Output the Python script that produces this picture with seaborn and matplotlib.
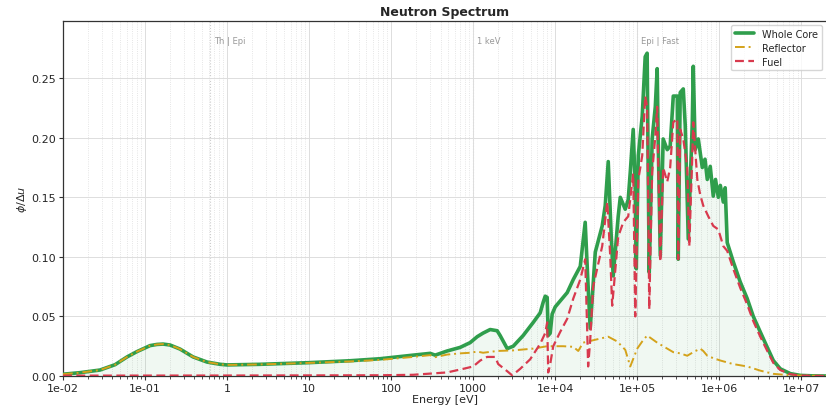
import numpy as np
import pandas as pd
import matplotlib
matplotlib.use("Agg")
import matplotlib.pyplot as plt
import matplotlib.ticker as mticker
import matplotlib.transforms as mtransforms
import seaborn as sns

# ---------------- data ----------------
energy_core = [1.00e-2, 1.12e-2, 1.61e-2, 2.82e-2, 4.31e-2, 6.03e-2, 7.98e-2, 9.46e-2, 0.115, 0.140,
               0.166, 0.202, 0.267, 0.385, 0.570, 0.822, 1.0, 2.52, 10.0, 31.6,
               73.4, 185, 299, 344, 482, 693, 918, 1.12e3, 1.32e3, 1.61e3,
               1.96e3, 2.13e3, 2.60e3, 3.08e3, 4.07e3, 5.40e3, 6.56e3, 7.14e3, 7.55e3, 7.98e3,
               8.22e3, 8.69e3, 9.18e3, 1.00e4, 1.15e4, 1.40e4, 1.66e4, 2.02e4, 2.32e4, 2.52e4,
               2.67e4, 3.08e4, 3.74e4, 4.07e4, 4.43e4, 4.82e4, 5.09e4, 5.86e4, 6.21e4, 7.14e4,
               7.76e4, 8.22e4, 8.93e4, 9.46e4, 9.73e4, 1.03e5, 1.15e5, 1.25e5, 1.32e5, 1.36e5,
               1.40e5, 1.52e5, 1.66e5, 1.75e5, 1.80e5, 1.91e5, 2.07e5, 2.32e5, 2.52e5, 2.75e5,
               3.08e5, 3.16e5, 3.34e5, 3.64e5, 3.85e5, 4.19e5, 4.69e5, 4.82e5, 5.09e5, 5.55e5,
               6.21e5, 6.70e5, 7.14e5, 7.76e5, 8.45e5, 9.00e5, 9.73e5, 1.03e6, 1.12e6, 1.18e6,
               1.25e6, 1.48e6, 1.80e6, 2.19e6, 2.60e6, 3.16e6, 3.85e6, 4.56e6, 5.55e6, 7.35e6,
               9.73e6, 1.40e7, 2.00e7]
flux_core = [0.0015, 0.0018, 0.0028, 0.0050, 0.0095, 0.0160, 0.0205, 0.0228, 0.0255, 0.0265,
             0.0268, 0.0260, 0.0226, 0.0160, 0.0117, 0.0098, 0.0093, 0.0098, 0.0112, 0.0128,
             0.0145, 0.0175, 0.0190, 0.0175, 0.0210, 0.0240, 0.0280, 0.0330, 0.0360, 0.0390,
             0.0380, 0.0340, 0.0230, 0.0250, 0.0340, 0.0450, 0.0530, 0.0620, 0.0670, 0.0660,
             0.0340, 0.0360, 0.0520, 0.0580, 0.0630, 0.0700, 0.0810, 0.0920, 0.1290, 0.0750,
             0.0400, 0.1040, 0.1260, 0.1430, 0.1800, 0.1170, 0.0840, 0.1340, 0.1500, 0.1400,
             0.1480, 0.1710, 0.2070, 0.1570, 0.0900, 0.1850, 0.2180, 0.2680, 0.2710, 0.1730,
             0.0870, 0.1990, 0.2260, 0.2580, 0.1990, 0.1010, 0.1990, 0.1900, 0.1930, 0.2350,
             0.2350, 0.0980, 0.2380, 0.2410, 0.2100, 0.1150, 0.2130, 0.2600, 0.1900, 0.1990,
             0.1750, 0.1820, 0.1650, 0.1760, 0.1510, 0.1650, 0.1500, 0.1600, 0.1460, 0.1580,
             0.1120, 0.0960, 0.0790, 0.0650, 0.0500, 0.0370, 0.0240, 0.0130, 0.0060, 0.0020,
             0.0005, 0.0001, 0.0000]

energy_refl = [1.00e-2, 1.12e-2, 1.61e-2, 2.82e-2, 4.31e-2, 6.03e-2, 7.98e-2, 9.46e-2, 0.115, 0.140,
               0.166, 0.202, 0.267, 0.385, 0.570, 0.822, 1.0, 2.52, 10.0, 31.6,
               73.4, 185, 299, 344, 482, 693, 918, 1.12e3, 1.32e3, 1.96e3,
               3.08e3, 5.40e3, 7.98e3, 1.25e4, 1.66e4, 1.91e4, 2.19e4, 2.90e4, 4.43e4, 5.70e4,
               7.14e4, 8.22e4, 1.00e5, 1.15e5, 1.32e5, 1.52e5, 1.75e5, 2.19e5, 2.75e5, 3.34e5,
               4.07e5, 4.82e5, 5.86e5, 6.38e5, 7.14e5, 8.45e5, 1.03e6, 1.48e6, 2.19e6, 3.16e6,
               4.56e6, 6.75e6, 9.73e6, 1.40e7, 2.00e7]
flux_refl = [0.0015, 0.0018, 0.0028, 0.0050, 0.0095, 0.0160, 0.0205, 0.0228, 0.0255, 0.0265,
             0.0268, 0.0260, 0.0226, 0.0160, 0.0117, 0.0098, 0.0093, 0.0097, 0.0110, 0.0122,
             0.0135, 0.0160, 0.0175, 0.0158, 0.0180, 0.0190, 0.0195, 0.0205, 0.0195, 0.0210,
             0.0215, 0.0230, 0.0250, 0.0250, 0.0245, 0.0210, 0.0280, 0.0300, 0.0330, 0.0290,
             0.0220, 0.0080, 0.0230, 0.0290, 0.0340, 0.0310, 0.0280, 0.0240, 0.0200, 0.0190,
             0.0170, 0.0200, 0.0230, 0.0210, 0.0170, 0.0150, 0.0130, 0.0100, 0.0080, 0.0045,
             0.0018, 0.0008, 0.0004, 0.0002, 0.0001]

energy_fuel = [1.00e-2, 1.0, 10.0, 73.4, 185, 482, 755, 1.00e3, 1.22e3, 1.48e3,
               1.85e3, 2.02e3, 2.60e3, 2.99e3, 3.74e3, 4.95e3, 6.56e3, 7.55e3, 7.98e3, 8.22e3,
               8.69e3, 9.46e3, 1.15e4, 1.40e4, 1.66e4, 2.02e4, 2.32e4, 2.45e4, 2.52e4, 2.67e4,
               2.90e4, 3.74e4, 4.31e4, 4.69e4, 4.95e4, 5.86e4, 6.75e4, 7.76e4, 8.93e4, 9.46e4,
               1.03e5, 1.09e5, 1.15e5, 1.25e5, 1.32e5, 1.36e5, 1.40e5, 1.52e5, 1.66e5, 1.75e5,
               1.80e5, 1.91e5, 2.07e5, 2.32e5, 2.52e5, 2.75e5, 3.08e5, 3.16e5, 3.34e5, 3.64e5,
               4.07e5, 4.31e5, 4.69e5, 4.82e5, 5.40e5, 5.86e5, 6.38e5, 7.35e5, 8.45e5, 9.73e5,
               1.12e6, 1.25e6, 1.48e6, 1.80e6, 2.19e6, 2.60e6, 3.16e6, 3.85e6, 4.56e6, 5.55e6,
               7.35e6, 9.73e6, 1.40e7, 2.00e7]
flux_fuel = [0.0003, 0.0004, 0.0005, 0.0006, 0.0010, 0.0030, 0.0060, 0.0080, 0.0130, 0.0160,
             0.0160, 0.0100, 0.0040, 0.0005, 0.0060, 0.0140, 0.0270, 0.0360, 0.0450, 0.0030,
             0.0100, 0.0250, 0.0370, 0.0480, 0.0650, 0.0810, 0.0980, 0.0400, 0.0080, 0.0300,
             0.0750, 0.1090, 0.1460, 0.1000, 0.0590, 0.1170, 0.1290, 0.1340, 0.1700, 0.0500,
             0.1650, 0.1750, 0.1850, 0.2350, 0.2260, 0.1500, 0.0560, 0.1710, 0.2010, 0.2260,
             0.1800, 0.0960, 0.1750, 0.1630, 0.1750, 0.2130, 0.2160, 0.0980, 0.2070, 0.1990,
             0.1750, 0.1090, 0.1850, 0.2130, 0.1650, 0.1520, 0.1430, 0.1340, 0.1260, 0.1230,
             0.1090, 0.1050, 0.0900, 0.0740, 0.0600, 0.0460, 0.0330, 0.0210, 0.0110, 0.0050,
             0.0015, 0.0004, 0.0001, 0.0000]

series_names = ["Whole Core", "Reflector", "Fuel"]
region_labels = ["Th | Epi", "1 keV", "Epi | Fast"]
region_edges = [0.625, 1.0e3, 1.0e5]
xtick_values = [1e-2, 1e-1, 1, 10, 100, 1000, 1e4, 1e5, 1e6, 1e7]
xtick_labels = ["1e-02", "1e-01", "1", "10", "100", "1000", "1e+04", "1e+05", "1e+06", "1e+07"]
ytick_values = [0.00, 0.05, 0.10, 0.15, 0.20, 0.25]

# ---------------- styling ----------------
sns.set_theme(style="whitegrid")
plt.rcParams["font.family"] = ["DejaVu Sans"]

colors = {"Whole Core": "#2f9e4c", "Reflector": "#d4a21a", "Fuel": "#d83a4e"}

df_core = pd.DataFrame({"E": energy_core, "flux": flux_core})
df_refl = pd.DataFrame({"E": energy_refl, "flux": flux_refl})
df_fuel = pd.DataFrame({"E": energy_fuel, "flux": flux_fuel})

fig, ax = plt.subplots(figsize=(8.26, 4.10), dpi=100)
fig.subplots_adjust(left=0.0763, right=1.0, top=0.9463, bottom=0.0805)

ax.fill_between(df_core["E"], 0, df_core["flux"], color=colors["Whole Core"], alpha=0.07, lw=0, zorder=1)
sns.lineplot(data=df_core, x="E", y="flux", ax=ax, color=colors["Whole Core"], lw=2.6,
             estimator=None, label=series_names[0], zorder=3)
sns.lineplot(data=df_refl, x="E", y="flux", ax=ax, color=colors["Reflector"], lw=1.4,
             estimator=None, label=series_names[1], zorder=4)
sns.lineplot(data=df_fuel, x="E", y="flux", ax=ax, color=colors["Fuel"], lw=1.6,
             estimator=None, label=series_names[2], zorder=5)
ax.lines[1].set_linestyle((0, (5, 2, 1, 2)))
ax.lines[2].set_linestyle((0, (4, 2)))

ax.set_xscale("log")
ax.set_xlim(1e-2, 2.0e7)
ax.set_ylim(0, 0.298)

ax.xaxis.set_major_locator(mticker.FixedLocator(xtick_values))
ax.xaxis.set_major_formatter(mticker.FixedFormatter(xtick_labels))
ax.xaxis.set_minor_locator(mticker.LogLocator(base=10, subs=np.arange(2, 10), numticks=30))
ax.xaxis.set_minor_formatter(mticker.NullFormatter())
ax.set_yticks(ytick_values)
ax.yaxis.set_major_formatter(mticker.FormatStrFormatter("%.2f"))

ax.grid(True, which="major", axis="both", color="#dddddd", lw=0.7, ls="-")
ax.grid(True, which="minor", axis="x", color="#dddddd", lw=0.6, ls=":")
ax.tick_params(axis="both", which="major", length=3, width=0.8, labelsize=8, color="#333333",
               pad=2, bottom=True, left=True)
ax.tick_params(axis="x", which="minor", length=2, width=0.6, color="#333333", bottom=True)
for s in ax.spines.values():
    s.set_color("#333333")
    s.set_linewidth(0.9)
ax.spines["right"].set_visible(False)

trans = mtransforms.blended_transform_factory(ax.transData, ax.transAxes)
for edge, lab in zip(region_edges, region_labels):
    ax.axvline(edge, color="#cccccc", lw=0.8, ls=":", zorder=0)
    ax.text(edge * 1.12, 0.945, lab, transform=trans, ha="left", va="center",
            fontsize=6, color="#999999")

ax.set_title("Neutron Spectrum", fontsize=9, fontweight="bold", pad=4)
ax.set_xlabel("Energy [eV]", fontsize=8, labelpad=1)
ax.set_ylabel(r"$\phi/\Delta u$", fontsize=8, labelpad=2)
leg = ax.legend(loc="upper right", fontsize=7, frameon=True, handlelength=2.0,
                borderpad=0.4, labelspacing=0.4, borderaxespad=0.4)
leg.get_frame().set_edgecolor("#cccccc")

fig.savefig("out.png", dpi=100)
